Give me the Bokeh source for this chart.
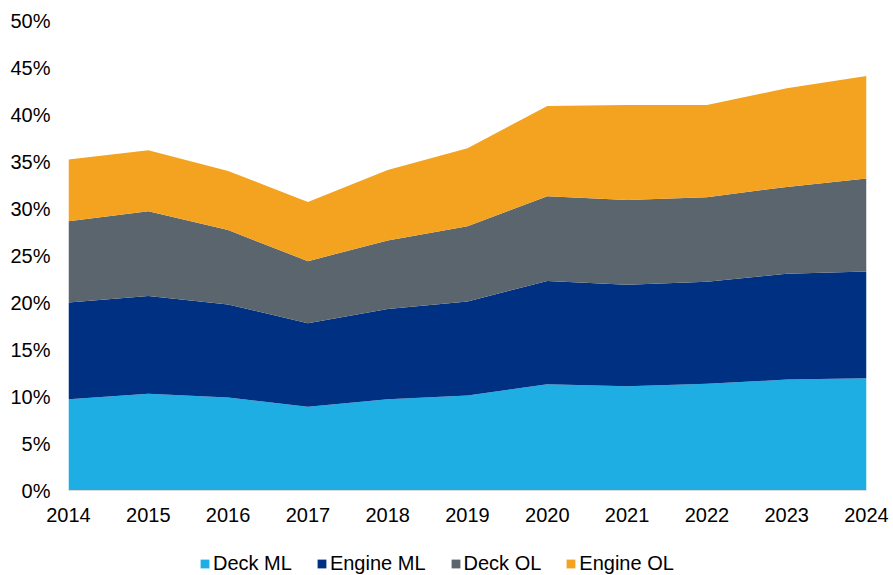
from bokeh.plotting import figure
from bokeh.layouts import column
from bokeh.models import Legend, LegendItem, FixedTicker, PrintfTickFormatter, Range1d
from bokeh.embed import file_html
from bokeh.resources import INLINE

years = [2014, 2015, 2016, 2017, 2018, 2019, 2020, 2021, 2022, 2023, 2024]
deck_ml = [9.7, 10.3, 9.9, 8.9, 9.7, 10.1, 11.3, 11.1, 11.35, 11.8, 11.95]
engine_ml = [10.3, 10.4, 9.9, 8.9, 9.6, 10.0, 11.0, 10.8, 10.85, 11.25, 11.35]
deck_ol = [8.65, 9.0, 7.9, 6.6, 7.3, 8.0, 9.0, 9.0, 9.0, 9.25, 9.9]
engine_ol = [6.55, 6.5, 6.3, 6.3, 7.5, 8.3, 9.6, 10.1, 9.8, 10.5, 10.9]
series_names = ["Deck ML", "Engine ML", "Deck OL", "Engine OL"]
colors = ["#1FAEE4", "#003082", "#5A656E", "#F3A31F"]
y_ticks = [0, 5, 10, 15, 20, 25, 30, 35, 40, 45, 50]

data = dict(year=years)
keys = ["s0", "s1", "s2", "s3"]
for k, v in zip(keys, [deck_ml, engine_ml, deck_ol, engine_ol]):
    data[k] = v

font = "Liberation Sans"

p = figure(width=893, height=535, output_backend="svg", toolbar_location=None,
           x_range=Range1d(2014, 2024), y_range=Range1d(0, 50),
           min_border_left=68, min_border_right=27, min_border_top=20, min_border_bottom=45)
p.outline_line_color = None
p.grid.visible = False
p.background_fill_color = "white"
p.border_fill_color = "white"

renderers = p.varea_stack(stackers=keys, x="year", color=colors, source=data)

p.yaxis.ticker = FixedTicker(ticks=y_ticks)
p.yaxis.formatter = PrintfTickFormatter(format="%d%%")
p.yaxis.axis_line_color = None
p.yaxis.major_tick_line_color = None
p.yaxis.minor_tick_line_color = None
p.yaxis.major_label_text_font = font
p.yaxis.major_label_text_font_size = "20px"
p.yaxis.major_label_text_color = "#000000"
p.yaxis.major_label_standoff = 12

p.xaxis.ticker = FixedTicker(ticks=years)
p.xaxis.axis_line_color = "#D9D9D9"
p.xaxis.major_tick_line_color = None
p.xaxis.minor_tick_line_color = None
p.xaxis.major_label_text_font = font
p.xaxis.major_label_text_font_size = "20px"
p.xaxis.major_label_text_color = "#000000"
p.xaxis.major_label_standoff = 11

# Legend strip: a second figure whose view range excludes the data, so only the legend shows
q = figure(width=893, height=40, output_backend="svg", toolbar_location=None,
           x_axis_location=None, y_axis_location=None, min_border=0,
           x_range=Range1d(0, 1), y_range=Range1d(0, 1))
q.outline_line_color = None
q.grid.visible = False
legend_renderers = q.varea_stack(stackers=keys, x="year", color=colors, source=data)
items = [LegendItem(label=n, renderers=[r]) for n, r in zip(series_names, legend_renderers)]
legend = Legend(items=items, orientation="horizontal", location=(131, 0),
                label_text_font=font, label_text_font_size="20px", label_text_color="#000000",
                glyph_width=11, glyph_height=11, label_standoff=3, spacing=24,
                padding=0, margin=0, border_line_color=None, background_fill_alpha=0)
q.add_layout(legend, "center")

open("out.html", "w").write(file_html(column(p, q, spacing=0), INLINE))
